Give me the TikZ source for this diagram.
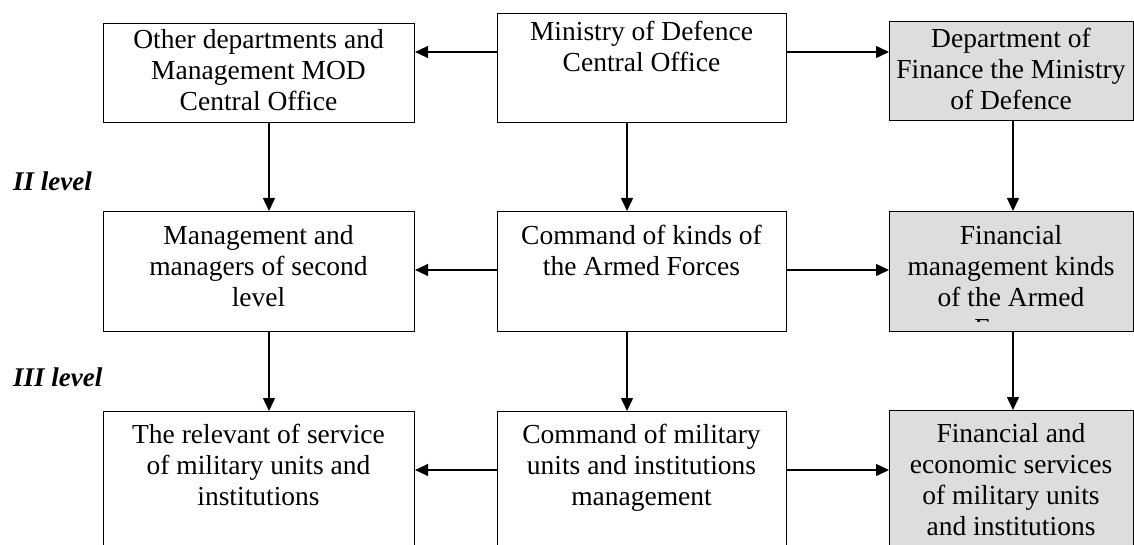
\documentclass[tikz,border=0pt]{standalone}
\usepackage{fontspec}
\setmainfont{Liberation Serif}
\usetikzlibrary{arrows.meta}
\definecolor{finfill}{RGB}{221,221,221}
\begin{document}
\begin{tikzpicture}[x=1pt,y=-1pt,
  box/.style={draw=black, line width=1.1pt, inner sep=0pt, anchor=north west},
  finbox/.style={box, fill=finfill},
  txt/.style={font=\fontsize{27.5}{31}\selectfont, align=center, inner sep=0pt, anchor=north},
  lvl/.style={font=\fontsize{27}{31}\selectfont\bfseries\itshape, inner sep=0pt, anchor=base west},
  arr/.style={line width=1.5pt, -{Triangle[length=13pt,width=12pt]}}]

\useasboundingbox (0,0) rectangle (1134,545);
\begin{scope}
\clip (0,0) rectangle (1134,545);

% rows of connector lines
\coordinate (r1) at (0,52);
\coordinate (r2) at (0,270);
\coordinate (r3) at (0,470);
\coordinate (c1) at (269,0);
\coordinate (c2) at (627,0);
\coordinate (c3) at (1013,0);

% level I boxes
\node[box, minimum width=311pt, minimum height=99pt] (other) at (103,23) {};
\node[box, minimum width=289pt, minimum height=109pt] (mod) at (497,13) {};
\node[finbox, minimum width=244pt, minimum height=99pt] (fin1) at (889,21) {};

% level II boxes
\node[box, minimum width=311pt, minimum height=120pt] (mgmt) at (103,211) {};
\node[box, minimum width=289pt, minimum height=120pt] (cmdk) at (497,211) {};
\node[finbox, minimum width=244pt, minimum height=120pt] (fin2) at (889,211) {};

% level III boxes (run past the lower edge)
\node[box, minimum width=311pt, minimum height=160pt] (rel) at (103,411) {};
\node[box, minimum width=289pt, minimum height=160pt] (cmdm) at (497,411) {};
\node[finbox, minimum width=244pt, minimum height=160pt] (fin3) at (889,410) {};

% box texts
\node[txt] (otherT) at (258.5,26.3) {\strut Other departments and\\Management MOD\\Central Office};
\node[txt] (modT) at (641.5,18.3) {\strut Ministry of Defence\\Central Office};
\node[txt] (fin1T) at (1011,25.3) {\strut Department of\\Finance the Ministry\\of Defence};
\node[txt] (mgmtT) at (258.5,222.3) {\strut Management and\\managers of second\\level};
\node[txt] (cmdkT) at (641.5,222.3) {\strut Command of kinds of\\the Armed Forces};
\begin{scope}
\clip (889,211) rectangle (1133,321);
\node[txt] (fin2T) at (1011,222.3) {\strut Financial\\management kinds\\of the Armed\\Forces};
\end{scope}
\node[txt] (relT) at (258.5,421.3) {\strut The relevant of service\\of military units and\\institutions};
\node[txt] (cmdmT) at (641.5,421.3) {\strut Command of military\\units and institutions\\management};
\node[txt] (fin3T) at (1011,420.3) {\strut Financial and\\economic services\\of military units\\and institutions};

% level labels
\node[lvl] (lvl2) at (13,191) {II level};
\node[lvl] (lvl3) at (13,386) {III level};

% horizontal connectors
\draw[arr] (mod.west |- r1) -- (other.east |- r1);
\draw[arr] (mod.east |- r1) -- (fin1.west |- r1);
\draw[arr] (cmdk.west |- r2) -- (mgmt.east |- r2);
\draw[arr] (cmdk.east |- r2) -- (fin2.west |- r2);
\draw[arr] (cmdm.west |- r3) -- (rel.east |- r3);
\draw[arr] (cmdm.east |- r3) -- (fin3.west |- r3);

% vertical connectors
\draw[arr] (other.south -| c1) -- (mgmt.north -| c1);
\draw[arr] (mgmt.south -| c1) -- (rel.north -| c1);
\draw[arr] (mod.south -| c2) -- (cmdk.north -| c2);
\draw[arr] (cmdk.south -| c2) -- (cmdm.north -| c2);
\draw[arr] (fin1.south -| c3) -- (fin2.north -| c3);
\draw[arr] (fin2.south -| c3) -- (fin3.north -| c3);
\end{scope}
\end{tikzpicture}
\end{document}
